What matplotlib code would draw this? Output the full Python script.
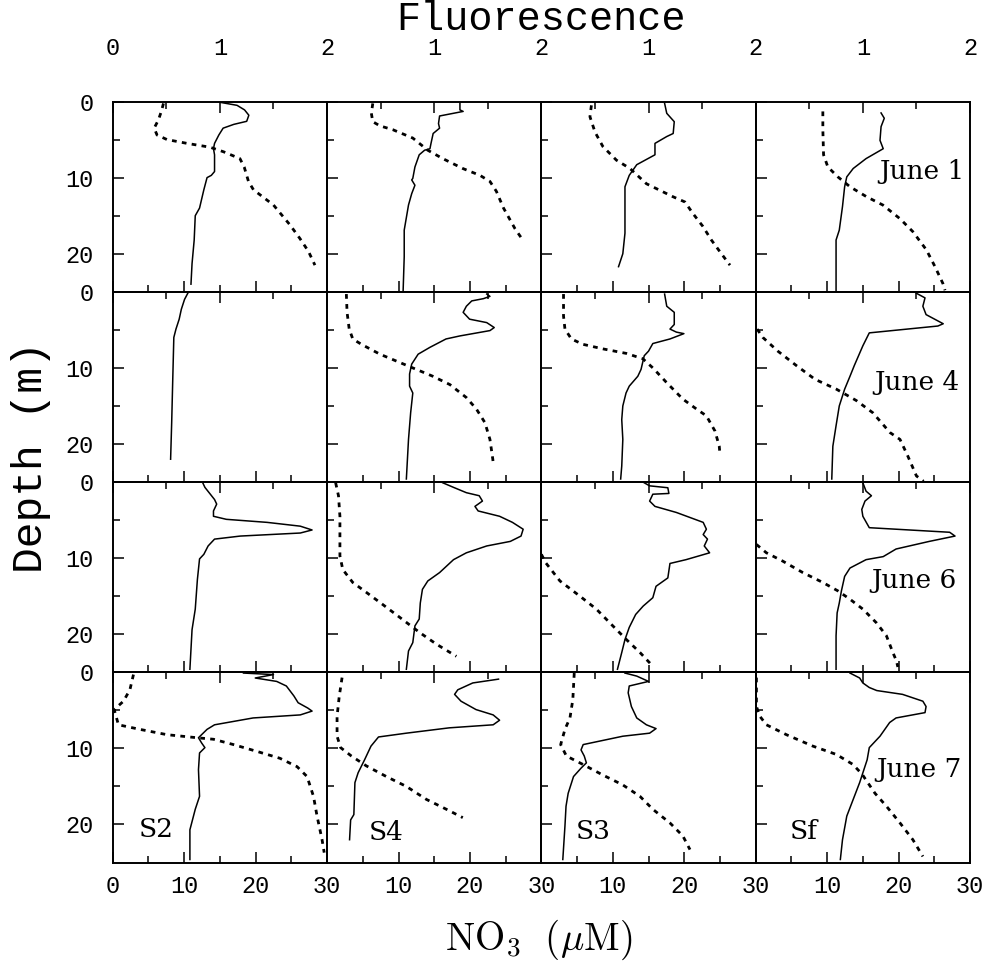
import matplotlib
matplotlib.use("Agg")
import matplotlib.pyplot as plt

plt.rcParams['font.family'] = ['Liberation Mono', 'DejaVu Sans']
plt.rcParams['mathtext.fontset'] = 'cm'

# Data (depth in m, fluorescence, NO3 in uM)
# -----------------------------------------------------------------------------
dates = ["June 1", "June 4", "June 6", "June 7"]
stations = ["S2", "S4", "S3", "Sf"]

# June 1
j1_s2_fl_z = [0.1, 0.5, 1.1, 1.8, 2.6, 3.0, 3.5, 4.4, 5.5, 6.2, 7.0, 9.2, 9.7, 10.0, 11.6, 14.0, 15.0, 18.2, 21.3, 24.0]
j1_s2_fl = [1.00, 1.16, 1.23, 1.27, 1.25, 1.13, 1.03, 0.99, 0.95, 0.94, 0.95, 0.95, 0.92, 0.88, 0.85, 0.81, 0.77, 0.76, 0.74, 0.73]
j1_s2_no3_z = [0.25, 1.3, 2.4, 3.5, 4.4, 5.0, 5.5, 6.0, 6.6, 7.5, 8.6, 10.5, 11.6, 13.6, 16.2, 18.0, 19.7, 21.5]
j1_s2_no3 = [7.1, 6.8, 6.4, 5.8, 6.2, 7.6, 10.4, 13.6, 15.5, 17.8, 18.4, 19.0, 19.7, 22.5, 24.8, 26.2, 27.4, 28.3]

j1_s4_fl_z = [0.1, 1.1, 1.3, 1.9, 2.9, 3.5, 4.2, 5.5, 6.2, 6.4, 7.0, 8.6, 10.1, 10.3, 11.0, 12.1, 13.6, 16.9, 20.4, 24.8]
j1_s4_fl = [1.24, 1.24, 1.27, 1.05, 1.04, 1.05, 0.99, 0.97, 0.96, 0.91, 0.86, 0.82, 0.80, 0.79, 0.82, 0.79, 0.76, 0.72, 0.72, 0.71]
j1_s4_no3_z = [0.25, 1.55, 2.65, 3.2, 3.7, 4.8, 6.4, 7.5, 8.8, 9.7, 10.5, 11.8, 14.0, 16.7, 18.2]
j1_s4_no3 = [6.4, 6.2, 6.4, 7.4, 9.2, 12.0, 14.1, 16.2, 19.0, 21.4, 22.8, 23.7, 24.7, 26.3, 27.4]

j1_s3_fl_z = [0.24, 1.55, 2.65, 4.2, 4.6, 5.5, 7.0, 8.3, 9.7, 11.2, 17.3, 20.0, 21.7]
j1_s3_fl = [1.15, 1.17, 1.24, 1.23, 1.17, 1.06, 1.06, 0.89, 0.82, 0.78, 0.78, 0.76, 0.72]
j1_s3_no3_z = [0.5, 2.0, 4.0, 5.9, 7.7, 8.8, 10.8, 12.5, 13.2, 14.7, 16.4, 18.2, 20.0, 21.5]
j1_s3_no3 = [7.0, 6.8, 7.5, 8.6, 10.5, 12.4, 14.7, 18.4, 20.1, 21.2, 22.6, 23.8, 25.2, 26.4]

j1_sf_fl_z = [1.5, 2.2, 3.3, 5.1, 6.2, 7.5, 8.8, 9.9, 11.2, 13.8, 16.9, 18.2, 24.8]
j1_sf_fl = [1.17, 1.20, 1.17, 1.16, 1.19, 1.03, 0.91, 0.85, 0.83, 0.81, 0.78, 0.75, 0.75]
j1_sf_no3_z = [1.3, 3.7, 7.0, 8.6, 9.9, 11.2, 12.5, 13.6, 15.4, 17.1, 19.5, 21.7, 23.9, 24.8]
j1_sf_no3 = [9.4, 9.4, 9.5, 10.1, 11.5, 13.2, 15.5, 17.8, 20.2, 22.0, 23.9, 25.1, 26.2, 26.5]

# June 4
j4_s2_fl_z = [0.2, 1.0, 2.3, 3.6, 4.9, 6.0, 11.5, 17.2, 22.0]
j4_s2_fl = [0.70, 0.67, 0.64, 0.62, 0.59, 0.57, 0.56, 0.55, 0.54]

j4_s4_fl_z = [0.3, 0.6, 0.9, 1.2, 1.9, 2.7, 3.6, 4.05, 4.7, 5.1, 5.8, 6.2, 7.3, 8.2, 9.5, 10.8, 12.4, 13.3, 15.9, 19.4, 24.6]
j4_s4_fl = [1.49, 1.52, 1.46, 1.35, 1.30, 1.27, 1.33, 1.49, 1.56, 1.52, 1.24, 1.11, 0.96, 0.85, 0.79, 0.77, 0.77, 0.80, 0.78, 0.76, 0.74]
j4_s4_no3_z = [0.3, 2.7, 4.9, 6.2, 6.9, 8.2, 9.3, 10.2, 11.1, 12.2, 13.9, 15.4, 17.2, 19.4, 22.0, 22.9]
j4_s4_no3 = [2.7, 2.8, 3.1, 3.6, 4.8, 7.4, 10.2, 12.5, 14.8, 17.2, 19.5, 20.9, 22.1, 22.8, 23.2, 23.3]

j4_s3_fl_z = [0.3, 1.9, 2.7, 4.3, 4.9, 5.3, 5.5, 6.2, 6.8, 7.8, 8.4, 10.2, 11.1, 12.4, 13.3, 15.0, 16.8, 19.4, 22.9, 24.6]
j4_s3_fl = [1.15, 1.17, 1.24, 1.24, 1.20, 1.26, 1.33, 1.20, 1.04, 1.00, 0.96, 0.93, 0.90, 0.82, 0.79, 0.76, 0.75, 0.76, 0.75, 0.74]
j4_s3_no3_z = [0.3, 3.2, 4.9, 6.2, 6.9, 7.5, 8.1, 8.8, 10.0, 11.9, 14.1, 15.4, 16.3, 18.3, 20.3, 21.4]
j4_s3_no3 = [3.1, 3.1, 3.3, 4.2, 5.8, 8.6, 11.9, 14.2, 15.6, 17.5, 19.8, 21.7, 23.1, 24.3, 24.9, 25.0]

j4_sf_fl_z = [0.2, 0.8, 1.9, 3.0, 4.2, 4.5, 5.4, 7.1, 9.7, 11.1, 12.8, 15.0, 17.6, 20.3, 24.6]
j4_sf_fl = [1.50, 1.58, 1.56, 1.59, 1.75, 1.70, 1.06, 1.00, 0.92, 0.88, 0.83, 0.78, 0.75, 0.72, 0.71]
j4_sf_no3_z = [4.9, 6.0, 7.8, 9.7, 11.5, 12.8, 14.3, 15.9, 18.5, 19.4, 21.6, 24.2, 24.9]
j4_sf_no3 = [0.2, 1.0, 3.1, 5.7, 8.3, 11.3, 14.1, 16.4, 18.8, 20.2, 21.3, 22.5, 23.5]

# June 6
j6_s2_fl_z = [0.1, 0.7, 2.3, 2.9, 3.8, 4.5, 4.9, 5.3, 5.8, 6.3, 6.7, 7.1, 7.5, 8.4, 9.5, 10.1, 12.8, 16.7, 19.4, 22.0, 24.6]
j6_s2_fl = [0.84, 0.86, 0.95, 0.97, 0.94, 0.94, 1.06, 1.44, 1.75, 1.86, 1.75, 1.19, 0.95, 0.89, 0.85, 0.81, 0.79, 0.77, 0.74, 0.73, 0.72]

j6_s4_fl_z = [0.1, 0.7, 1.4, 1.8, 2.5, 3.2, 3.8, 4.5, 5.3, 6.2, 7.1, 7.8, 8.4, 9.3, 10.2, 11.9, 13.0, 14.1, 15.9, 18.0, 18.9, 21.1, 22.2, 24.6]
j6_s4_fl = [1.08, 1.18, 1.30, 1.42, 1.45, 1.38, 1.41, 1.61, 1.73, 1.83, 1.81, 1.71, 1.49, 1.30, 1.18, 1.05, 0.94, 0.89, 0.87, 0.86, 0.82, 0.80, 0.76, 0.74]
j6_s4_no3_z = [0.1, 1.8, 4.5, 9.7, 11.5, 13.2, 14.5, 16.1, 17.8, 19.8, 21.3, 22.9]
j6_s4_no3 = [1.2, 1.6, 1.8, 1.8, 2.2, 3.6, 5.5, 7.8, 10.2, 13.0, 15.3, 18.1]

j6_s3_fl_z = [0.1, 0.5, 0.75, 1.5, 1.6, 2.5, 3.2, 4.0, 5.3, 6.2, 6.9, 7.5, 8.4, 9.3, 10.2, 10.7, 12.6, 13.7, 15.2, 16.3, 17.4, 19.1, 20.7, 22.4, 24.6]
j6_s3_fl = [0.96, 1.01, 1.18, 1.19, 1.04, 1.01, 1.06, 1.26, 1.51, 1.54, 1.51, 1.55, 1.52, 1.57, 1.35, 1.20, 1.18, 1.07, 1.04, 0.95, 0.88, 0.82, 0.78, 0.75, 0.71]
j6_s3_no3_z = [9.5, 10.6, 13.0, 15.0, 16.7, 18.9, 20.7, 22.4, 24.2]
j6_s3_no3 = [0.0, 0.6, 2.6, 5.4, 7.7, 10.0, 11.9, 13.8, 15.6]

j6_sf_fl_z = [0.1, 1.2, 1.8, 2.5, 3.6, 4.5, 6.0, 6.2, 6.6, 7.1, 7.8, 8.8, 9.8, 10.2, 11.3, 12.4, 14.3, 15.9, 17.2, 20.2, 24.6]
j6_sf_fl = [1.00, 1.03, 1.08, 1.02, 0.99, 1.00, 1.06, 1.31, 1.81, 1.86, 1.62, 1.31, 1.19, 1.03, 0.88, 0.83, 0.80, 0.78, 0.76, 0.75, 0.75]
j6_sf_no3_z = [8.2, 9.3, 10.4, 11.9, 13.2, 14.3, 15.4, 16.7, 18.5, 20.2, 22.4, 23.5, 24.3]
j6_sf_no3 = [0.1, 1.5, 3.8, 6.6, 9.4, 11.5, 13.2, 15.0, 16.9, 18.3, 19.2, 19.7, 19.9]

# June 7
j7_s2_fl_z = [0.1, 0.3, 0.75, 1.2, 1.8, 3.1, 4.0, 4.7, 5.1, 5.6, 6.0, 6.9, 7.5, 8.6, 9.3, 9.9, 10.6, 12.8, 16.3, 18.0, 20.7, 24.6]
j7_s2_fl = [1.22, 1.50, 1.33, 1.53, 1.62, 1.69, 1.73, 1.82, 1.86, 1.75, 1.31, 0.95, 0.88, 0.80, 0.83, 0.86, 0.81, 0.80, 0.81, 0.77, 0.72, 0.72]
j7_s2_no3_z = [0.3, 2.3, 3.8, 4.9, 6.9, 7.5, 8.2, 8.6, 8.8, 9.5, 10.4, 11.3, 12.4, 13.7, 16.3, 18.9, 22.0, 23.7]
j7_s2_no3 = [2.9, 2.4, 1.5, 0.2, 0.8, 3.8, 7.6, 11.8, 14.1, 16.9, 20.2, 23.4, 25.8, 27.2, 28.1, 28.6, 29.3, 29.6]

j7_s4_fl_z = [0.9, 1.4, 2.3, 2.9, 3.8, 4.9, 5.6, 6.3, 6.9, 7.3, 8.0, 8.5, 9.7, 11.5, 13.2, 14.5, 18.7, 19.4, 22.0]
j7_s4_fl = [1.60, 1.36, 1.22, 1.19, 1.25, 1.39, 1.55, 1.61, 1.55, 1.14, 0.74, 0.48, 0.41, 0.35, 0.29, 0.26, 0.25, 0.22, 0.21]
j7_s4_no3_z = [0.7, 3.2, 5.8, 8.4, 9.9, 11.0, 12.3, 13.7, 15.0, 16.7, 18.0, 19.1]
j7_s4_no3 = [2.1, 1.7, 1.4, 1.4, 1.9, 3.4, 5.5, 8.3, 11.1, 13.9, 16.7, 19.0]

j7_s3_fl_z = [0.1, 0.5, 1.2, 1.8, 2.7, 4.5, 6.0, 6.9, 7.4, 8.0, 8.4, 9.5, 10.2, 11.0, 11.9, 12.6, 13.7, 15.9, 17.6, 20.2, 24.6]
j7_s3_fl = [0.78, 0.89, 1.00, 0.82, 0.81, 0.84, 0.89, 0.98, 1.07, 1.01, 0.76, 0.39, 0.37, 0.40, 0.42, 0.37, 0.30, 0.25, 0.23, 0.22, 0.20]
j7_s3_no3_z = [0.1, 3.6, 6.0, 7.5, 9.5, 11.0, 12.1, 13.5, 14.8, 16.3, 18.0, 19.8, 21.5, 23.3]
j7_s3_no3 = [4.6, 4.4, 4.0, 3.3, 2.7, 3.5, 5.8, 8.6, 11.4, 13.8, 15.6, 18.0, 19.8, 20.8]

j7_sf_fl_z = [0.1, 0.75, 1.4, 2.0, 2.4, 2.9, 3.8, 4.5, 5.3, 6.0, 6.6, 8.4, 9.9, 11.5, 14.5, 16.7, 18.9, 22.0, 24.6]
j7_sf_fl = [0.88, 0.97, 1.00, 1.06, 1.13, 1.37, 1.56, 1.59, 1.58, 1.31, 1.25, 1.16, 1.06, 1.04, 0.97, 0.91, 0.85, 0.81, 0.79]
j7_sf_no3_z = [0.7, 4.5, 5.8, 6.9, 8.2, 9.7, 10.8, 12.1, 13.4, 15.9, 17.6, 19.8, 22.0, 24.2]
j7_sf_no3 = [0.1, 0.1, 0.6, 1.5, 4.3, 8.0, 11.3, 13.6, 14.9, 16.7, 18.3, 20.2, 22.0, 23.4]

# rows = dates, columns = stations
fluor = [
    [(j1_s2_fl, j1_s2_fl_z), (j1_s4_fl, j1_s4_fl_z), (j1_s3_fl, j1_s3_fl_z), (j1_sf_fl, j1_sf_fl_z)],
    [(j4_s2_fl, j4_s2_fl_z), (j4_s4_fl, j4_s4_fl_z), (j4_s3_fl, j4_s3_fl_z), (j4_sf_fl, j4_sf_fl_z)],
    [(j6_s2_fl, j6_s2_fl_z), (j6_s4_fl, j6_s4_fl_z), (j6_s3_fl, j6_s3_fl_z), (j6_sf_fl, j6_sf_fl_z)],
    [(j7_s2_fl, j7_s2_fl_z), (j7_s4_fl, j7_s4_fl_z), (j7_s3_fl, j7_s3_fl_z), (j7_sf_fl, j7_sf_fl_z)],
]
nitrate = [
    [(j1_s2_no3, j1_s2_no3_z), (j1_s4_no3, j1_s4_no3_z), (j1_s3_no3, j1_s3_no3_z), (j1_sf_no3, j1_sf_no3_z)],
    [None, (j4_s4_no3, j4_s4_no3_z), (j4_s3_no3, j4_s3_no3_z), (j4_sf_no3, j4_sf_no3_z)],
    [None, (j6_s4_no3, j6_s4_no3_z), (j6_s3_no3, j6_s3_no3_z), (j6_sf_no3, j6_sf_no3_z)],
    [(j7_s2_no3, j7_s2_no3_z), (j7_s4_no3, j7_s4_no3_z), (j7_s3_no3, j7_s3_no3_z), (j7_sf_no3, j7_sf_no3_z)],
]

# Plot
# -----------------------------------------------------------------------------
fig, axes = plt.subplots(4, 4, figsize=(9.89, 9.66), dpi=100,
                         gridspec_kw={"hspace": 0, "wspace": 0})
fig.subplots_adjust(left=0.114, right=0.9808, bottom=0.1071, top=0.8949)

label_font = {"family": "DejaVu Serif", "size": 19}
tick_size = 17

for r in range(4):
    for c in range(4):
        ax = axes[r, c]
        ax2 = ax.twiny()

        ax.set_xlim(0, 30)
        ax.set_ylim(25, 0)
        ax2.set_xlim(0, 2)

        # NO3 (dashed, bottom scale)
        if nitrate[r][c] is not None:
            vals, z = nitrate[r][c]
            ax.plot(vals, z, color="black", lw=2.0, linestyle=(0, (1.7, 1.9)))
        # fluorescence (solid, top scale)
        vals, z = fluor[r][c]
        ax2.plot(vals, z, color="black", lw=1.1)

        # bottom ticks
        xlab = ["0", "10", "20", "30"] if c == 0 else ["", "10", "20", "30"]
        ax.set_xticks([0, 10, 20, 30], xlab)
        ax.set_xticks([5, 15, 25], minor=True)
        ax.tick_params(axis="x", which="both", direction="in", bottom=True,
                       top=False, labelbottom=(r == 3), labelsize=tick_size, pad=9)
        # left ticks
        ax.set_yticks([0, 10, 20], ["0", "10", "20"])
        ax.set_yticks([5, 15], minor=True)
        ax.tick_params(axis="y", which="both", direction="in", left=True,
                       right=False, labelleft=(c == 0), labelsize=tick_size, pad=14)
        # top ticks
        tlab = ["0", "1", "2"] if c == 0 else ["", "1", "2"]
        ax2.set_xticks([0, 1, 2], tlab)
        ax2.set_xticks([0.5, 1.5], minor=True)
        ax2.tick_params(axis="x", which="both", direction="in", top=True,
                        bottom=False, labeltop=(r == 0), labelsize=tick_size, pad=30)

        for a in (ax, ax2):
            a.tick_params(which="major", length=8, width=1.1)
            a.tick_params(which="minor", length=5, width=1.1)
            for s in a.spines.values():
                s.set_linewidth(1.2)

# date labels in the last column
date_pos = [(0.975, 0.63), (0.952, 0.524), (0.936, 0.48), (0.96, 0.489)]
for r, d in enumerate(dates):
    axes[r, 3].text(date_pos[r][0], date_pos[r][1], d, transform=axes[r, 3].transAxes,
                    ha="right", va="center", fontdict=label_font, zorder=5)

# station labels in the last row
station_pos = [(0.123, 0.173), (0.193, 0.158), (0.16, 0.165), (0.159, 0.165)]
for c, s in enumerate(stations):
    axes[3, c].text(station_pos[c][0], station_pos[c][1], s, transform=axes[3, c].transAxes,
                    ha="left", va="center", fontdict=label_font, zorder=5)

fig.text(0.547, 0.980, "Fluorescence", ha="center", va="center", fontsize=29)
fig.text(0.031, 0.527, "Depth (m)", ha="center", va="center", rotation=90, fontsize=31)
fig.text(0.545, 0.027, r"$\mathrm{NO}_3\ \ (\mu\mathrm{M})$", ha="center", va="center", fontsize=28)

fig.savefig("out.png", dpi=100)
